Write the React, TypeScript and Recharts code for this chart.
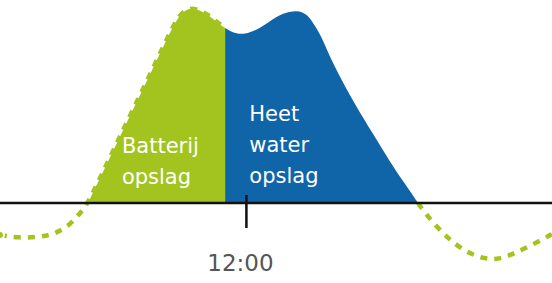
import { ComposedChart, Area, Line, XAxis, YAxis, ReferenceLine, ReferenceDot } from 'recharts';

// hour of day and net solar surplus (kW) over one day
const hours = [
  3.2, 3.84, 4.63, 5.16, 5.7, 6.13, 6.34, 6.95, 7.66, 8.38, 9.09, 9.56, 9.91, 10.24, 10.59, 10.95,
  11.24, 11.52, 11.95, 12.38, 12.84, 13.31, 13.81, 14.16, 14.38, 14.63, 14.88, 15.16, 15.59, 16.06,
  16.66, 17.24, 17.74, 18.13,
  18.38, 18.84, 19.27, 19.74, 20.34, 20.95, 21.52, 22.06, 22.66, 22.91,
];
const netPower = [
  -0.64, -0.7, -0.68, -0.62, -0.44, -0.16, 0, 0.7, 1.54, 2.36, 3.2, 3.74, 3.9, 3.88, 3.78, 3.62,
  3.5, 3.4, 3.37, 3.46, 3.64, 3.8, 3.86, 3.78, 3.6, 3.38, 3.06, 2.72, 2.26, 1.8,
  1.26, 0.72, 0.32, 0,
  -0.2, -0.5, -0.74, -0.94, -1.1, -1.14, -1.02, -0.88, -0.7, -0.62,
];

// surplus goes to the battery until the split, then to the hot water tank
const batteryStart = 6.34;
const storageSplit = 11.24;
const heatEnd = 18.13;

const tickHour = 12;
const tickLabel = '12:00';
const batteryLabel = ['Batterij', 'opslag'];
const heatLabel = ['Heet', 'water', 'opslag'];

const GREEN = '#a3c41f';
const BLUE = '#1065a8';

const data = hours.map((h, i) => ({
  hour: h,
  // dashed trace stays hidden behind the hot water area
  dashed: h <= storageSplit || h >= heatEnd ? netPower[i] : null,
  battery: h >= batteryStart && h <= storageSplit ? netPower[i] : null,
  heat: h >= storageSplit && h <= heatEnd ? netPower[i] : null,
}));

const textLines = (lines: string[]) => (props: any) => {
  const { x, y } = props.viewBox;
  return (
    <text x={x} y={y} fill="#fff" fontSize={21} fontFamily="DejaVu Sans">
      {lines.map((l, i) => (
        <tspan key={l} x={x} dy={i === 0 ? 0 : 31}>
          {l}
        </tspan>
      ))}
    </text>
  );
};

const tickText = (props: any) => {
  const { x, y } = props.viewBox;
  return (
    <text x={x - 5} y={y} fill="#555" fontSize={23} fontFamily="DejaVu Sans" textAnchor="middle">
      {tickLabel}
    </text>
  );
};

export default function App() {
  return (
    <div>
      <style>{'body{margin:0}'}</style>
      <ComposedChart width={552} height={283} data={data} margin={{ top: 0, right: 0, bottom: 0, left: 0 }}>
        <XAxis dataKey="hour" type="number" domain={[3.2, 22.914]} hide allowDataOverflow />
        <YAxis type="number" domain={[-1.6, 4.06]} hide allowDataOverflow />
        <Area dataKey="battery" type="basis" fill={GREEN} fillOpacity={1} stroke="none" isAnimationActive={false} />
        <Area dataKey="heat" type="basis" fill={BLUE} fillOpacity={1} stroke="none" isAnimationActive={false} />
        <Line
          dataKey="dashed"
          type="basis"
          stroke={GREEN}
          strokeWidth={4.5}
          strokeDasharray="7 7"
          dot={false}
          isAnimationActive={false}
        />
        <ReferenceLine y={0} stroke="#111" strokeWidth={2.5} />
        <ReferenceLine
          segment={[
            { x: tickHour, y: 0.16 },
            { x: tickHour, y: -0.5 },
          ]}
          stroke="#111"
          strokeWidth={2.5}
        />
        <ReferenceDot x={tickHour} y={-1.38} r={1} fill="none" stroke="none" label={{ content: tickText }} />
        <ReferenceDot x={7.59} y={0.98} r={1} fill="none" stroke="none" label={{ content: textLines(batteryLabel) }} />
        <ReferenceDot x={12.14} y={1.62} r={1} fill="none" stroke="none" label={{ content: textLines(heatLabel) }} />
      </ComposedChart>
    </div>
  );
}
